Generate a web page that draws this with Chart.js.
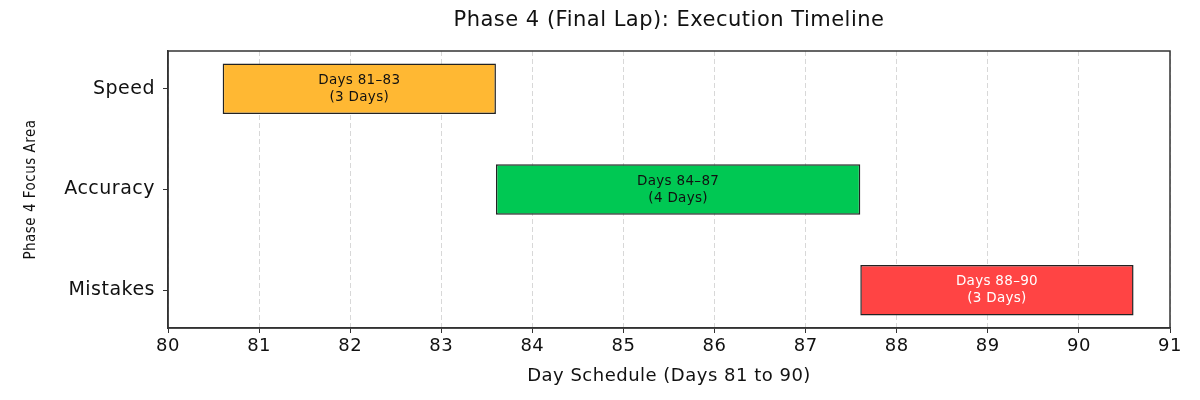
<!DOCTYPE html>
<html>
<head>
<meta charset="utf-8">
<script src="https://cdn.jsdelivr.net/npm/chart.js@4"></script>
<style>
html,body{margin:0;padding:0;background:#fff;}
#wrap{width:1200px;height:400px;}
</style>
</head>
<body>
<div id="wrap"><canvas id="c" width="1200" height="400"></canvas></div>
<script>
const categories = ["Speed", "Accuracy", "Mistakes"];
const startDays = [80.6, 83.6, 87.6];
const endDays = [83.6, 87.6, 90.6];
const barLabels = [["Days 81\u201383", "(3 Days)"], ["Days 84\u201387", "(4 Days)"], ["Days 88\u201390", "(3 Days)"]];
const barColors = ["#FFB833", "#00C853", "#FF4444"];
const labelColors = ["#111111", "#111111", "#FFFFFF"];
const xMin = 80, xMax = 91;

const FONT = "'DejaVu Sans', 'Open Sans', sans-serif";

const spacing = {
  id: 'spacing',
  beforeUpdate(chart) { chart.ctx.letterSpacing = '0.5px'; },
  beforeLayout(chart) { chart.ctx.letterSpacing = '0.5px'; },
  beforeDraw(chart) { chart.ctx.letterSpacing = '0.5px'; }
};

const centerTitle = {
  id: 'centerTitle',
  afterLayout(chart) {
    const t = chart.titleBlock;
    if (t) {
      t.left = chart.chartArea.left;
      t.right = chart.chartArea.right;
      t.width = t.right - t.left;
    }
  }
};

const frame = {
  id: 'frame',
  afterDraw(chart) {
    const a = chart.chartArea, ctx = chart.ctx;
    ctx.save();
    ctx.strokeStyle = '#333';
    ctx.lineWidth = 1.5;
    ctx.setLineDash([]);
    ctx.strokeRect(a.left, a.top, a.right - a.left, a.bottom - a.top);
    ctx.restore();
  }
};

const barText = {
  id: 'barText',
  afterDraw(chart) {
    const meta = chart.getDatasetMeta(0);
    const ctx = chart.ctx;
    ctx.save();
    ctx.font = "13.5px " + FONT;
    ctx.letterSpacing = '0.3px';
    ctx.textAlign = 'center';
    ctx.textBaseline = 'middle';
    meta.data.forEach((el, i) => {
      const p = el.getCenterPoint();
      ctx.fillStyle = labelColors[i];
      const lines = barLabels[i];
      const lh = 17;
      lines.forEach((t, j) => {
        ctx.fillText(t, p.x, p.y + (j - (lines.length - 1) / 2) * lh);
      });
    });
    ctx.restore();
  }
};

new Chart(document.getElementById('c'), {
  type: 'bar',
  data: {
    datasets: [{
      data: categories.map((c, i) => ({ y: i, x: [startDays[i], endDays[i]] })),
      backgroundColor: barColors,
      borderColor: '#222',
      borderWidth: 1.5,
      borderSkipped: false,
      categoryPercentage: 1,
      barPercentage: 0.5
    }]
  },
  options: {
    indexAxis: 'y',
    responsive: false,
    animation: false,
    devicePixelRatio: 1,
    layout: { padding: { left: 0, right: 30, top: 0, bottom: 0 } },
    plugins: {
      legend: { display: false },
      tooltip: { enabled: false },
      title: {
        display: true,
        text: 'Phase 4 (Final Lap): Execution Timeline',
        color: '#111',
        font: { family: FONT, size: 21, weight: 'normal', lineHeight: 1.2 },
        padding: { top: 8, bottom: 17.8 }
      }
    },
    scales: {
      x: {
        type: 'linear',
        min: xMin,
        max: xMax,
        z: 1,
        ticks: { stepSize: 1, color: '#111', font: { family: FONT, size: 18 }, padding: 3 },
        grid: {
          color: '#d8d8d8',
          lineWidth: 1,
          drawTicks: true,
          tickLength: 5,
          tickColor: '#333',
          tickBorderDash: []
        },
        border: { display: true, color: '#333', width: 1.5, dash: [5, 3] },
        title: {
          display: true,
          text: 'Day Schedule (Days 81 to 90)',
          color: '#111',
          font: { family: FONT, size: 18, lineHeight: 1.2 },
          padding: { top: 10, bottom: 13 }
        },
        afterFit(scale) { scale.height = 72; }
      },
      y: {
        type: 'linear',
        min: -0.375,
        max: 2.375,
        reverse: true,
        offset: false,
        afterBuildTicks(scale) { scale.ticks = categories.map((c, i) => ({ value: i })); },
        ticks: {
          color: '#111',
          font: { family: FONT, size: 19 },
          padding: 8,
          callback: (v) => categories[v]
        },
        grid: {
          offset: false,
          drawOnChartArea: false,
          drawTicks: true,
          tickLength: 5,
          tickColor: '#333'
        },
        border: { display: true, color: '#333', width: 1.5 },
        title: {
          display: true,
          text: 'Phase 4 Focus Area',
          color: '#111',
          font: { family: "'Liberation Sans Narrow', 'DejaVu Sans Condensed', sans-serif", size: 15 },
          padding: { top: 22, bottom: 4 }
        },
        afterFit(scale) { scale.width = 168; }
      }
    }
  },
  plugins: [spacing, centerTitle, frame, barText]
});
</script>
</body>
</html>
